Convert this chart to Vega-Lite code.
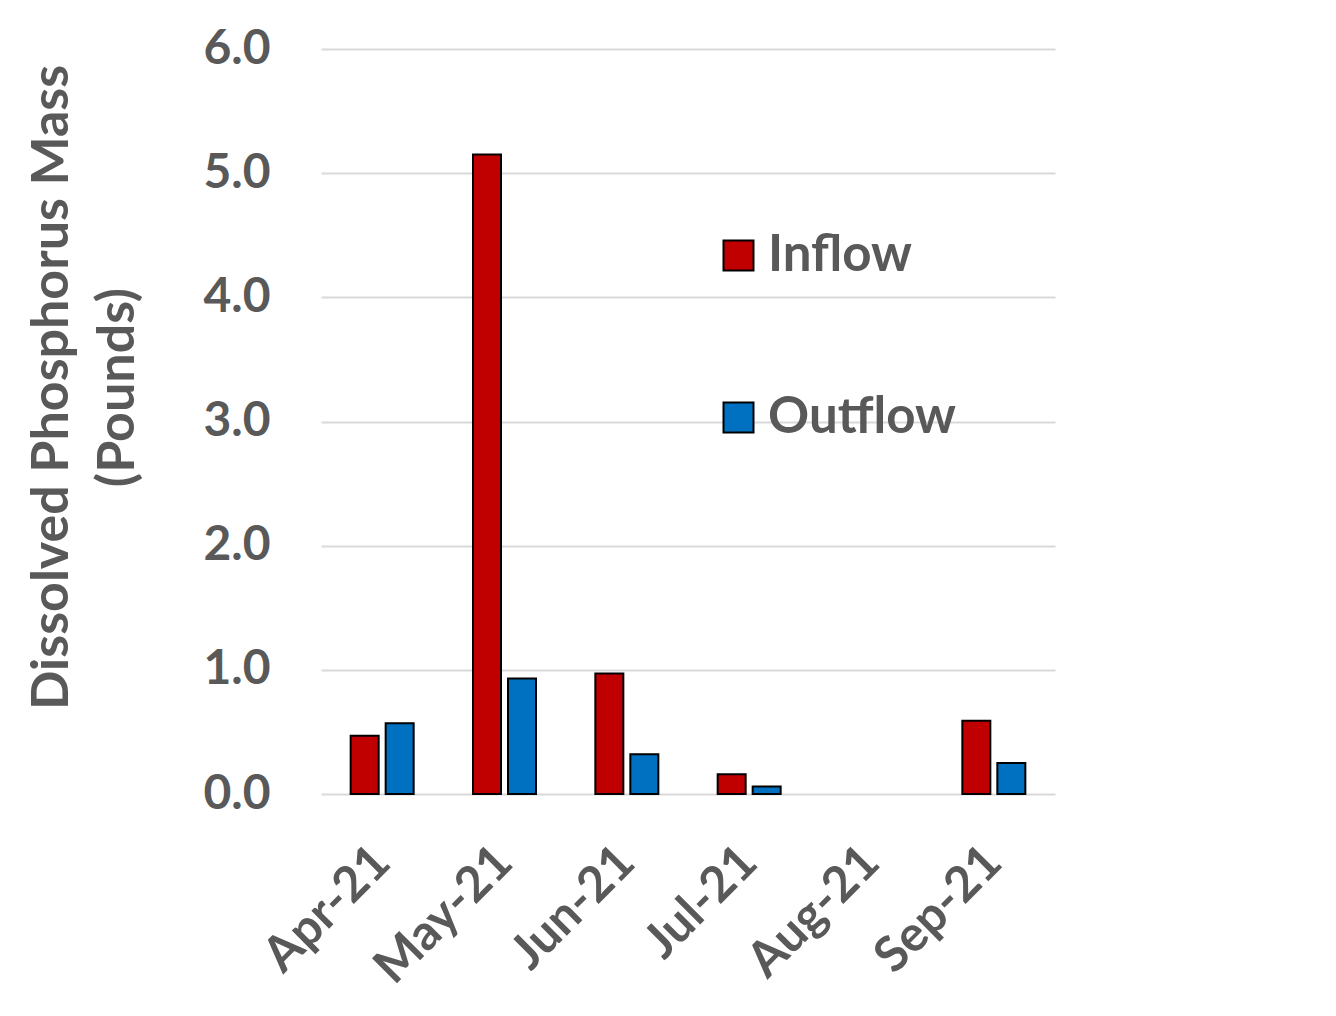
{
  "$schema": "https://vega.github.io/schema/vega-lite/v6.json",
  "width": 734,
  "height": 745,
  "autosize": {"type": "none"},
  "padding": {"left": 321, "top": 49, "right": 281, "bottom": 222},
  "background": "white",
  "data": {
    "values": [
      {"month": "Apr-21", "flow": "Inflow", "mass": 0.47},
      {"month": "Apr-21", "flow": "Outflow", "mass": 0.57},
      {"month": "May-21", "flow": "Inflow", "mass": 5.15},
      {"month": "May-21", "flow": "Outflow", "mass": 0.93},
      {"month": "Jun-21", "flow": "Inflow", "mass": 0.97},
      {"month": "Jun-21", "flow": "Outflow", "mass": 0.32},
      {"month": "Jul-21", "flow": "Inflow", "mass": 0.16},
      {"month": "Jul-21", "flow": "Outflow", "mass": 0.06},
      {"month": "Sep-21", "flow": "Inflow", "mass": 0.59},
      {"month": "Sep-21", "flow": "Outflow", "mass": 0.25}
    ]
  },
  "mark": {"type": "bar", "stroke": "black", "strokeWidth": 2},
  "encoding": {
    "x": {
      "field": "month",
      "type": "nominal",
      "sort": null,
      "scale": {
        "domain": ["Apr-21", "May-21", "Jun-21", "Jul-21", "Aug-21", "Sep-21"],
        "paddingInner": 0.485,
        "paddingOuter": 0.2425
      },
      "axis": {
        "title": null,
        "labelAngle": 315,
        "labelAlign": "right",
        "labelBaseline": "middle",
        "labelPadding": 60,
        "labelFont": "Lato",
        "labelFontWeight": "bold",
        "labelFontSize": 49,
        "labelColor": "#595959",
        "ticks": false,
        "domain": false,
        "grid": false
      }
    },
    "xOffset": {
      "field": "flow",
      "type": "nominal",
      "scale": {"paddingInner": 0.2, "paddingOuter": 0}
    },
    "y": {
      "field": "mass",
      "type": "quantitative",
      "scale": {"domain": [0, 6], "nice": false},
      "axis": {
        "title": ["Dissolved Phosphorus Mass", "(Pounds)"],
        "titleFont": "Lato",
        "titleFontWeight": "bold",
        "titleFontSize": 52,
        "titleColor": "#595959",
        "titleLineHeight": 66,
        "titleAngle": -90,
        "titleAlign": "center",
        "titleBaseline": "top",
        "titleX": -295,
        "titleY": 338,
        "values": [0, 1, 2, 3, 4, 5, 6],
        "format": ".1f",
        "labelFont": "Lato",
        "labelFontWeight": "bold",
        "labelFontSize": 48,
        "labelColor": "#595959",
        "labelPadding": 51,
        "ticks": false,
        "domain": false,
        "grid": true,
        "gridColor": "#D9D9D9",
        "gridWidth": 2
      }
    },
    "color": {
      "field": "flow",
      "type": "nominal",
      "scale": {"domain": ["Inflow", "Outflow"], "range": ["#C00000", "#0070C0"]},
      "legend": {
        "title": null,
        "orient": "none",
        "legendX": 392,
        "legendY": 181,
        "symbolType": "square",
        "symbolSize": 900,
        "symbolStrokeColor": "black",
        "symbolStrokeWidth": 2,
        "symbolOpacity": 1,
        "labelFont": "Lato",
        "labelFontWeight": "bold",
        "labelFontSize": 51,
        "labelColor": "#595959",
        "labelLimit": 0,
        "labelOffset": 4,
        "rowPadding": 110
      }
    }
  },
  "config": {"view": {"stroke": null}}
}
